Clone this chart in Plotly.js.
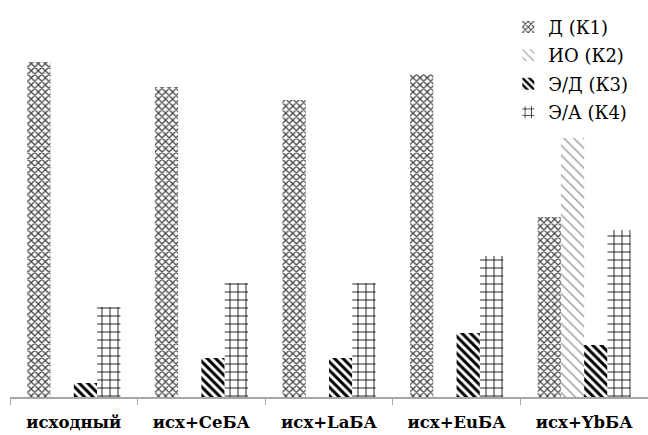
<!DOCTYPE html>
<html>
<head>
<meta charset="utf-8">
<script src="https://cdn.plot.ly/plotly-3.0.1.min.js"></script>
<style>html,body{margin:0;padding:0;background:#fff;}#chart{width:648px;height:435px;}</style>
</head>
<body>
<div id="chart"></div>
<script>
var categories = ["исходный", "исх+CeБА", "исх+LaБА", "исх+EuБА", "исх+YbБА"];
var seriesNames = ["Д (К1)", "ИО (К2)", "Э/Д (К3)", "Э/А (К4)"];
var k1 = [335, 310, 297, 323, 180];
var k2 = [0, 0, 0, 0, 259];
var k3 = [14, 39, 39, 64, 52];
var k4 = [90, 114, 114, 141, 167];

var serif = "DejaVu Serif";
var patterns = [
  {shape: "x", fgcolor: "#444", bgcolor: "#fff", size: 5, solidity: 0.45},
  {shape: "\\", fgcolor: "#999", bgcolor: "#fff", size: 7, solidity: 0.2},
  {shape: "\\", fgcolor: "#000", bgcolor: "#fff", size: 6, solidity: 0.5},
  {shape: "+", fgcolor: "#000", bgcolor: "#fff", size: 8, solidity: 0.2}
];
var values = [k1, k2, k3, k4];
var traces = values.map(function (v, i) {
  return {
    type: "bar",
    name: seriesNames[i],
    legendgroup: "g" + i,
    x: categories,
    y: v,
    marker: {color: "#fff", pattern: patterns[i], line: {width: 0}}
  };
});

var layout = {
  width: 648, height: 435,
  margin: {l: 10, r: 0, t: 0, b: 38},
  paper_bgcolor: "#fff", plot_bgcolor: "#fff",
  barmode: "group",
  bargap: 0.27,
  bargroupgap: 0,
  showlegend: true,
  legend: {
    x: 0.781, xanchor: "left", y: 0.978, yanchor: "top",
    font: {family: serif, size: 18, color: "#000"},
    traceorder: "grouped", tracegroupgap: 2,
    bgcolor: "rgba(0,0,0,0)", itemwidth: 30
  },
  xaxis: {
    showline: true, linecolor: "#a6a6a6", linewidth: 1.5,
    ticks: "outside", ticklen: 6, tickcolor: "#a6a6a6", tickson: "boundaries",
    tickfont: {family: serif, size: 16.5, color: "#000", weight: "bold"},
    ticklabelstandoff: 10,
    showgrid: false, zeroline: false
  },
  yaxis: {
    range: [0, 397], visible: false, showgrid: false, zeroline: false
  },
  font: {family: serif}
};

Plotly.newPlot("chart", traces, layout, {displayModeBar: false, staticPlot: true});
</script>
</body>
</html>
